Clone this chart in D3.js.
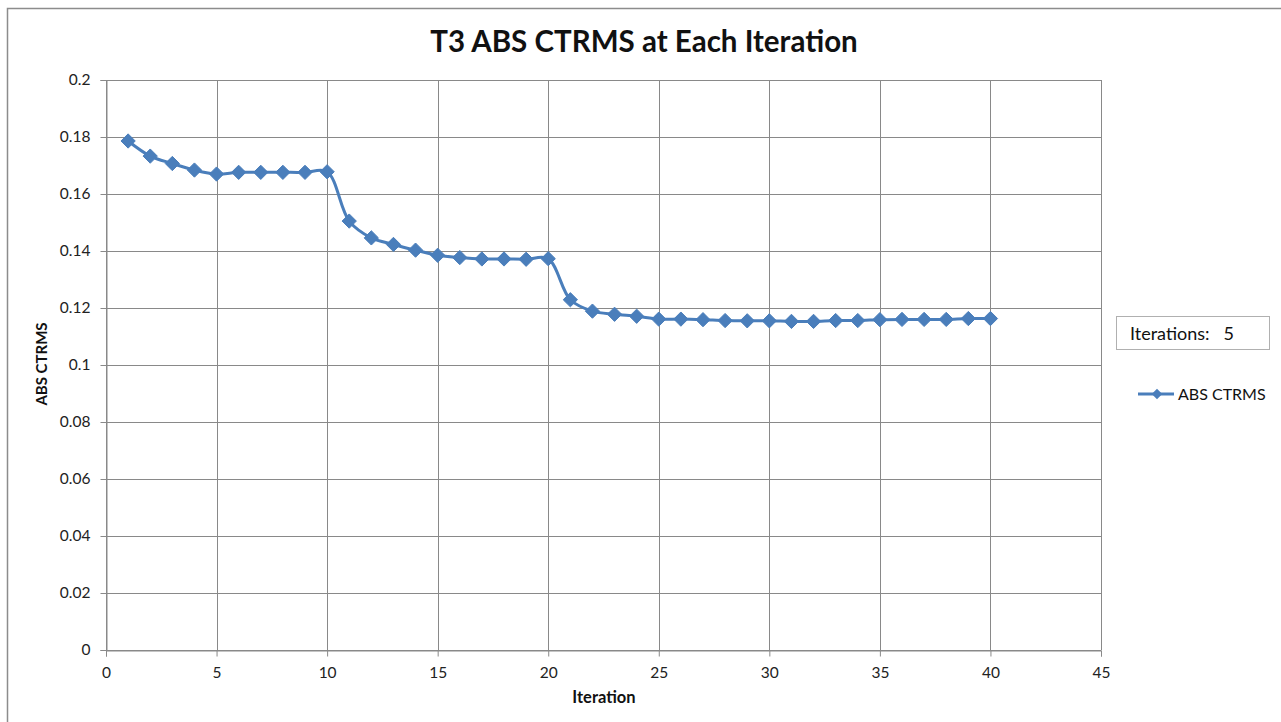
<!DOCTYPE html>
<html>
<head>
<meta charset="utf-8">
<script src="https://cdn.jsdelivr.net/npm/d3@7"></script>
<style>
  html, body { margin: 0; padding: 0; background: #fff; }
  svg { display: block; font-family: Lato, "Open Sans", "Liberation Sans", sans-serif; }
</style>
</head>
<body>
<svg id="chart" width="1281" height="722"></svg>
<script>
// ABS CTRMS recorded at each iteration
const iterations = d3.range(1, 41);
const absCtrms = [
  0.1786, 0.1733, 0.1707, 0.1684, 0.1670, 0.1676, 0.1676, 0.1676, 0.1676, 0.1678,
  0.1505, 0.1446, 0.1423, 0.1403, 0.1385, 0.1377, 0.1372, 0.1372, 0.1371, 0.1373,
  0.1229, 0.1189, 0.1178, 0.1171, 0.1161, 0.1161, 0.1159, 0.1156, 0.1155, 0.1155,
  0.1153, 0.1153, 0.1156, 0.1156, 0.1159, 0.1160, 0.1160, 0.1160, 0.1163, 0.1163
];
const xTicks = [0, 5, 10, 15, 20, 25, 30, 35, 40, 45];
const yTicks = [0, 0.02, 0.04, 0.06, 0.08, 0.1, 0.12, 0.14, 0.16, 0.18, 0.2];
const seriesName = "ABS CTRMS";
const chartTitle = "T3 ABS CTRMS at Each Iteration";
const infoText = "Iterations:   5";

const svg = d3.select("#chart");
const blue = "#4a7ebb";
const grid = "#898989";

// outer chart frame
svg.append("rect")
  .attr("x", 7.5).attr("y", 8.5).attr("width", 1290).attr("height", 730)
  .attr("fill", "#fff").attr("stroke", "#8c8c8c").attr("stroke-width", 1.5);

const plot = { left: 106, right: 1101, top: 80, bottom: 650 };
const x = d3.scaleLinear().domain([0, 45]).range([plot.left, plot.right]);
const y = d3.scaleLinear().domain([0, 0.2]).range([plot.bottom, plot.top]);

// gridlines
svg.append("g").selectAll("line").data(yTicks).join("line")
  .attr("x1", plot.left).attr("x2", plot.right)
  .attr("y1", d => Math.round(y(d)) + 0.5).attr("y2", d => Math.round(y(d)) + 0.5)
  .attr("stroke", grid).attr("stroke-width", 1);
svg.append("g").selectAll("line").data(xTicks).join("line")
  .attr("x1", d => Math.round(x(d)) + 0.5).attr("x2", d => Math.round(x(d)) + 0.5)
  .attr("y1", plot.top).attr("y2", plot.bottom)
  .attr("stroke", grid).attr("stroke-width", 1);

// axes
const yAxis = svg.append("g")
  .attr("transform", `translate(${plot.left + 0.5},0)`)
  .call(d3.axisLeft(y).tickValues(yTicks).tickSize(6).tickPadding(10)
    .tickFormat(d => d3.format("")(+d.toFixed(2))));
const xAxis = svg.append("g")
  .attr("transform", `translate(0,${plot.bottom + 0.5})`)
  .call(d3.axisBottom(x).tickValues(xTicks).tickSize(6).tickPadding(10));
[yAxis, xAxis].forEach(g => {
  g.select(".domain").attr("stroke", grid);
  g.selectAll(".tick line").attr("stroke", grid);
  g.selectAll(".tick text").attr("fill", "#222").attr("font-size", 15.5)
    .attr("font-family", "Lato, 'Open Sans', sans-serif");
});

// series line and markers
const pts = iterations.map((it, i) => [it, absCtrms[i]]);
const line = d3.line().x(d => x(d[0])).y(d => y(d[1])).curve(d3.curveCatmullRom.alpha(0.5));
svg.append("path").datum(pts)
  .attr("d", line).attr("fill", "none")
  .attr("stroke", blue).attr("stroke-width", 3).attr("stroke-linejoin", "round");
const diamond = d3.symbol().type(d3.symbolDiamond2).size(130);
svg.append("g").selectAll("path").data(pts).join("path")
  .attr("d", diamond)
  .attr("transform", d => `translate(${x(d[0])},${y(d[1])})`)
  .attr("fill", blue).attr("stroke", blue).attr("stroke-width", 1);

// titles
svg.append("text").attr("x", 644).attr("y", 52).attr("text-anchor", "middle")
  .attr("font-size", 29.5).attr("font-weight", "bold").attr("fill", "#111")
  .text(chartTitle);
svg.append("text").attr("x", 604).attr("y", 703).attr("text-anchor", "middle")
  .attr("font-size", 16.5).attr("font-weight", "bold").attr("fill", "#111")
  .text("Iteration");
svg.append("text").attr("transform", "translate(47,364) rotate(-90)")
  .attr("text-anchor", "middle")
  .attr("font-size", 15).attr("font-weight", "bold").attr("fill", "#111")
  .text(seriesName);

// info box
svg.append("rect").attr("x", 1116.5).attr("y", 316.5).attr("width", 153).attr("height", 33)
  .attr("fill", "#fff").attr("stroke", "#b0b0b0").attr("stroke-width", 1);
svg.append("text").attr("x", 1130).attr("y", 340).attr("font-size", 18).attr("fill", "#111")
  .attr("xml:space", "preserve").style("white-space", "pre")
  .text(infoText);

// legend
const lg = svg.append("g").attr("transform", "translate(1138,394)");
lg.append("line").attr("x1", 0).attr("x2", 36).attr("y1", 0).attr("y2", 0)
  .attr("stroke", blue).attr("stroke-width", 3);
lg.append("path").attr("d", d3.symbol().type(d3.symbolDiamond2).size(70))
  .attr("transform", "translate(19,0)").attr("fill", blue);
lg.append("text").attr("x", 40).attr("y", 6).attr("font-size", 16).attr("fill", "#111")
  .text(seriesName);
</script>
</body>
</html>
